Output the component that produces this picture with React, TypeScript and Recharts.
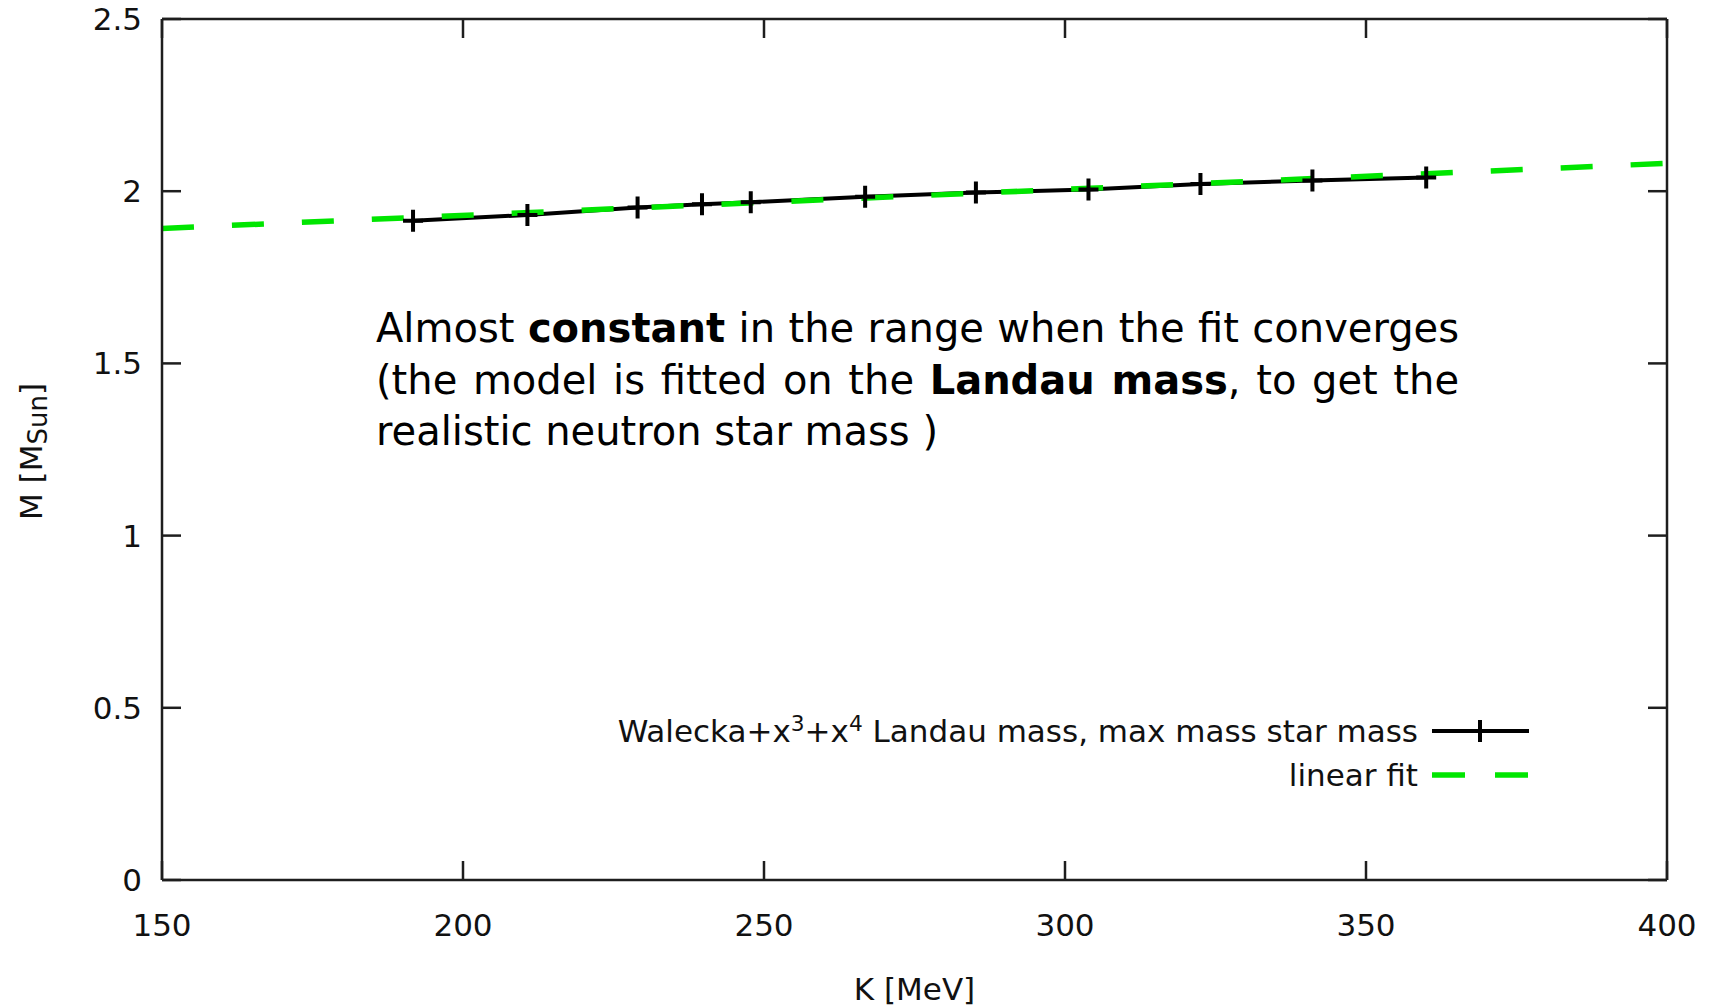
import { Legend, Line, LineChart, XAxis, YAxis } from 'recharts'

// Walecka + x^3 + x^4, maximum neutron star mass vs incompressibility K
const kValues = [191.7, 210.7, 229.0, 239.7, 247.8, 266.8, 285.2, 303.9, 322.5, 341.1, 360.0]
const maxMass = [1.914, 1.931, 1.953, 1.962, 1.968, 1.984, 1.996, 2.005, 2.021, 2.031, 2.04]

// linear fit evaluated at the ends of the K range
const fitK = [150, 400]
const fitMass = [1.892, 2.081]

const xTicks = [150, 200, 250, 300, 350, 400]
const yTicks = [0, 0.5, 1, 1.5, 2, 2.5]

const mainSeries = kValues.map((k, i) => ({ k, m: maxMass[i] }))
const fitSeries = fitK.map((k, i) => ({ k, m: fitMass[i] }))

const W = 1717
const H = 1007
const AXIS = '#1e1e1e'
const GREEN = '#00e600'
const TICK_FONT = "'DejaVu Sans', Verdana, sans-serif"
const TEXT_FONT = "'DejaVu Sans', Verdana, sans-serif"

const tickStyle = { fontSize: 31, fill: '#111', fontFamily: TICK_FONT }
const noLabel = () => ''

function PlusDot(props: any) {
  const { cx, cy, index } = props
  if (cx == null || cy == null) return null
  return (
    <path
      key={`plus-${index}`}
      d={`M${cx - 10},${cy}H${cx + 10}M${cx},${cy - 11}V${cy + 11}`}
      stroke="#000"
      strokeWidth={4}
      fill="none"
    />
  )
}

function XTitle(props: any) {
  const { viewBox } = props
  return (
    <text
      x={viewBox.x + viewBox.width / 2}
      y={viewBox.y + 120}
      textAnchor="middle"
      fontSize={31}
      fontFamily={TICK_FONT}
      fill="#111"
    >
      K [MeV]
    </text>
  )
}

function YTitle(props: any) {
  const { viewBox } = props
  const cx = 31
  const cy = viewBox.y + viewBox.height / 2 + 2
  return (
    <text
      x={cx}
      y={cy}
      transform={`rotate(-90, ${cx}, ${cy})`}
      textAnchor="middle"
      dominantBaseline="central"
      fontSize={31}
      fontFamily={TICK_FONT}
      fill="#111"
    >
      M [M
      <tspan fontSize={26} dy={7}>Sun</tspan>
      <tspan dy={-7}>]</tspan>
    </text>
  )
}

function KeyBox() {
  const row = {
    display: 'flex',
    justifyContent: 'flex-end',
    alignItems: 'center',
    height: 44,
  } as const
  const sup = { fontSize: '0.7em', position: 'relative', top: '-0.5em' } as const
  return (
    <div style={{ fontFamily: TICK_FONT, fontSize: 31, color: '#111', whiteSpace: 'nowrap' }}>
      <div style={row}>
        <span>
          Walecka+x<span style={sup}>3</span>+x<span style={sup}>4</span> Landau mass, max mass star mass
        </span>
        <svg width={98} height={30} style={{ marginLeft: 14 }}>
          <line x1={0} y1={15} x2={97} y2={15} stroke="#000" strokeWidth={4} />
          <path d="M48,15H68M58,4V26" transform="translate(-10,0)" stroke="#000" strokeWidth={4} />
        </svg>
      </div>
      <div style={row}>
        <span>linear fit</span>
        <svg width={98} height={30} style={{ marginLeft: 14 }}>
          <line x1={0} y1={15} x2={97} y2={15} stroke={GREEN} strokeWidth={5.5} strokeDasharray="33 30" />
        </svg>
      </div>
    </div>
  )
}

export default function App() {
  const justified = { textAlign: 'justify', textAlignLast: 'justify' } as const
  return (
    <div style={{ position: 'absolute', left: 0, top: 0, width: W, height: H, background: '#fff' }}>
      <LineChart width={W} height={H} margin={{ top: 18, right: 49, left: 0, bottom: 0 }}>
        <XAxis
          dataKey="k"
          type="number"
          domain={[150, 400]}
          ticks={xTicks}
          allowDataOverflow
          height={127}
          tick={tickStyle}
          tickSize={-19}
          tickMargin={53}
          axisLine={{ stroke: AXIS, strokeWidth: 2.5 }}
          tickLine={{ stroke: AXIS, strokeWidth: 2.5 }}
          label={<XTitle />}
        />
        {/* mirrored frame on top and right, carrying the fit line */}
        <XAxis
          xAxisId="top"
          orientation="top"
          dataKey="k"
          type="number"
          domain={[150, 400]}
          ticks={xTicks}
          allowDataOverflow
          height={1}
          tick={tickStyle}
          tickFormatter={noLabel}
          tickSize={-19}
          axisLine={{ stroke: AXIS, strokeWidth: 2.5 }}
          tickLine={{ stroke: AXIS, strokeWidth: 2.5 }}
        />
        <YAxis
          type="number"
          domain={[0, 2.5]}
          ticks={yTicks}
          allowDataOverflow
          width={162}
          tick={tickStyle}
          tickSize={-19}
          tickMargin={39}
          axisLine={{ stroke: AXIS, strokeWidth: 2.5 }}
          tickLine={{ stroke: AXIS, strokeWidth: 2.5 }}
          label={<YTitle />}
        />
        <YAxis
          yAxisId="right"
          orientation="right"
          type="number"
          domain={[0, 2.5]}
          ticks={yTicks}
          allowDataOverflow
          width={1}
          tick={tickStyle}
          tickFormatter={noLabel}
          tickSize={-19}
          axisLine={{ stroke: AXIS, strokeWidth: 2.5 }}
          tickLine={{ stroke: AXIS, strokeWidth: 2.5 }}
        />
        <Legend
          layout="vertical"
          align="center"
          verticalAlign="middle"
          wrapperStyle={{ left: 400, top: 709, width: 1130 }}
          content={<KeyBox />}
        />
        <Line
          data={mainSeries}
          dataKey="m"
          type="linear"
          stroke="#000"
          strokeWidth={4}
          dot={PlusDot}
          activeDot={false}
          isAnimationActive={false}
        />
        <Line
          data={fitSeries}
          xAxisId="top"
          yAxisId="right"
          dataKey="m"
          type="linear"
          stroke={GREEN}
          strokeWidth={5.5}
          strokeDasharray="32 38"
          dot={false}
          activeDot={false}
          isAnimationActive={false}
        />
      </LineChart>
      <div
        style={{
          position: 'absolute',
          left: 376,
          top: 303,
          width: 1083,
          fontFamily: TEXT_FONT,
          fontSize: 40,
          lineHeight: '51.5px',
          color: '#000',
        }}
      >
        <div style={justified}>
          Almost <b>constant</b> in the range when the fit converges
        </div>
        <div style={justified}>
          (the model is fitted on the <b>Landau mass</b>, to get the
        </div>
        <div>realistic neutron star mass )</div>
      </div>
    </div>
  )
}
